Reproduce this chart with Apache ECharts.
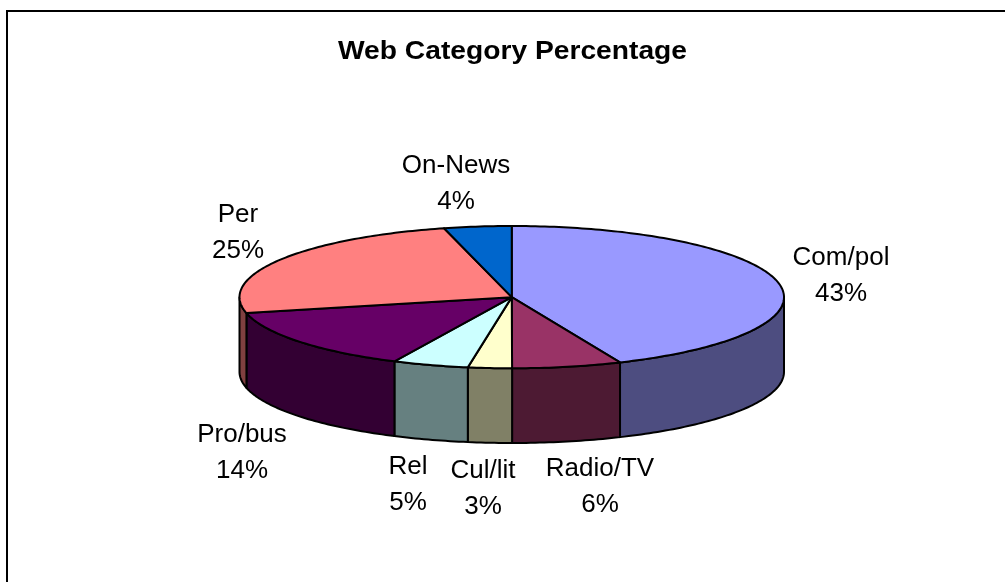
<!DOCTYPE html>
<html>
<head>
<meta charset="utf-8">
<style>html,body{margin:0;padding:0;background:#fff;overflow:hidden}#chart{width:1005px;height:582px}</style>
<script src="https://cdn.jsdelivr.net/npm/echarts@6/dist/echarts.min.js"></script>
</head>
<body>
<div id="chart"></div>
<script>
// Web categories and their shares, in clockwise order from twelve o'clock.
const categories = ['Com/pol', 'Radio/TV', 'Cul/lit', 'Rel', 'Pro/bus', 'Per', 'On-News'];
const shares = [43.49, 6.49, 2.6, 4.51, 14.31, 24.6, 4.0];
const topColors = ['#9999FF', '#993366', '#FFFFCC', '#CCFFFF', '#660066', '#FF8080', '#0066CC'];
const wallColors = ['#4D4D80', '#4D1A33', '#808066', '#668080', '#330033', '#804040', '#003366'];

// Centre of each two-line label, in page pixels.
const labelAnchors = [[841, 276], [600, 487], [483, 489], [408, 485], [242, 453], [238, 233], [456, 184]];

// Wall height in units of the disc's vertical radius.
const DEPTH = 1.05;
const ARC_STEP = Math.PI / 180;

const total = shares.reduce((a, b) => a + b, 0);
const sweep = [];
shares.reduce((acc, v) => {
  sweep.push([acc / total * 2 * Math.PI, (acc + v) / total * 2 * Math.PI]);
  return acc + v;
}, 0);

function rim(theta, level) {
  return [Math.sin(theta), Math.cos(theta) + level];
}
function arc(from, to, level, api) {
  const pts = [];
  const n = Math.max(1, Math.ceil((to - from) / ARC_STEP));
  for (let i = 0; i <= n; i++) pts.push(api.coord(rim(from + (to - from) * i / n, level)));
  return pts;
}

const lineStyle = { stroke: '#000', lineWidth: 2, lineJoin: 'round' };

function renderWall(params, api) {
  const i = params.dataIndex;
  const from = Math.max(sweep[i][0], Math.PI / 2);
  const to = Math.min(sweep[i][1], Math.PI * 1.5);
  if (to <= from) return null;
  const points = arc(from, to, 0, api).concat(arc(from, to, -DEPTH, api).reverse());
  return { type: 'polygon', shape: { points }, style: Object.assign({ fill: wallColors[i] }, lineStyle) };
}
function renderTop(params, api) {
  const i = params.dataIndex;
  const points = [api.coord([0, 0])].concat(arc(sweep[i][0], sweep[i][1], 0, api));
  return { type: 'polygon', shape: { points }, style: Object.assign({ fill: topColors[i] }, lineStyle) };
}

const chart = echarts.init(document.getElementById('chart'), null, { renderer: 'canvas' });
chart.setOption({
  animation: false,
  backgroundColor: '#fff',
  grid: { left: 239.5, top: 226, width: 544.5, height: 217, containLabel: false },
  xAxis: { type: 'value', min: -1, max: 1, show: false },
  yAxis: { type: 'value', min: -1 - DEPTH, max: 1, show: false },
  graphic: [
    { type: 'rect', silent: true, z: -1,
      shape: { x: 7, y: 11, width: 1100, height: 700 },
      style: { fill: '#fff', stroke: '#000', lineWidth: 2 } },
    // The heading is set slightly wide.
    { type: 'text', silent: true, x: 512.5, y: 52, scaleX: 1.106, originX: 0, originY: 0,
      style: {
        text: 'Web Category Percentage', align: 'center', verticalAlign: 'middle',
        font: 'bold 25.5px "Liberation Sans"', fill: '#000'
      } }
  ].concat(categories.map((name, i) => ({
    type: 'text', silent: true,
    x: labelAnchors[i][0], y: labelAnchors[i][1],
    style: {
      text: name + '\n' + Math.round(shares[i] / total * 100) + '%',
      align: 'center', verticalAlign: 'middle', lineHeight: 36,
      font: '26px "Liberation Sans"', fill: '#000'
    }
  }))),
  series: [
    { type: 'custom', coordinateSystem: 'cartesian2d', renderItem: renderWall, data: shares, silent: true, clip: false, z: 2 },
    { type: 'custom', coordinateSystem: 'cartesian2d', renderItem: renderTop, data: shares, silent: true, clip: false, z: 3 }
  ]
});
</script>
</body>
</html>
